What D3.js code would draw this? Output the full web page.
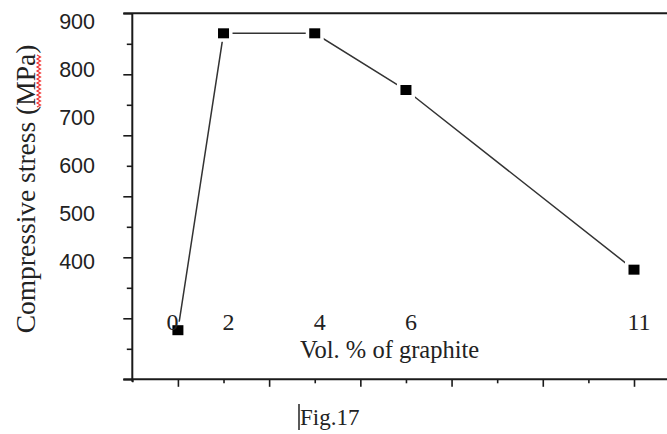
<!DOCTYPE html>
<html>
<head>
<meta charset="utf-8">
<script src="https://cdn.jsdelivr.net/npm/d3@7.9.0/dist/d3.min.js"></script>
<style>
  body { margin: 0; background: #fff; }
  svg { display: block; }
</style>
</head>
<body>
<svg id="chart" width="667" height="434"></svg>
<script>
// plotted positions along the x axis and the typed labels under them
const xPlot   = [1, 2, 4, 6, 11];
const xLabels = ["0", "2", "4", "6", "11"];
// compressive stress, MPa
const stress  = [257, 875, 875, 757, 383];
const yTicks  = [900, 800, 700, 600, 500, 400];

const svg = d3.select("#chart");
const W = 667;

// value scales
const x = d3.scaleLinear().domain([0, 11]).range([132.3, 634]);
const y = d3.scaleLinear().domain([400, 900]).range([261.5, 21.3]);
// frame scale for the tick marks on the left axis (12 divisions)
const yFrame = d3.scaleLinear().domain([0, 12]).range([379.3, 13.3]);

const axisColor = "#1a1a1a";

// left axis ticks
const gy = svg.append("g")
  .attr("transform", `translate(${x(0)},0)`)
  .call(d3.axisLeft(yFrame).tickValues(d3.range(0, 13)).tickFormat("").tickSizeOuter(0));
gy.select(".domain").remove();
gy.selectAll(".tick line")
  .attr("x2", d => d % 2 === 0 ? -9 : -5.5)
  .attr("stroke", axisColor)
  .attr("stroke-width", 1.6);

// bottom axis ticks
const gx = svg.append("g")
  .attr("transform", `translate(0,${yFrame(0)})`)
  .call(d3.axisBottom(x).tickValues(d3.range(0, 12)).tickFormat("").tickSizeOuter(0));
gx.select(".domain").remove();
gx.selectAll(".tick line")
  .attr("y2", d => d === 0 ? 3 : (d % 2 === 1 ? 7.5 : 4))
  .attr("stroke", axisColor)
  .attr("stroke-width", 1.6);

// frame lines
svg.append("line")
  .attr("x1", x(0)).attr("x2", x(0))
  .attr("y1", yFrame(12)).attr("y2", yFrame(0) + 2.5)
  .attr("stroke", axisColor).attr("stroke-width", 2);
svg.append("line")
  .attr("x1", x(0) - 9).attr("x2", W)
  .attr("y1", yFrame(0)).attr("y2", yFrame(0))
  .attr("stroke", axisColor).attr("stroke-width", 2);
svg.append("line")
  .attr("x1", x(0) - 9).attr("x2", W)
  .attr("y1", yFrame(12)).attr("y2", yFrame(12))
  .attr("stroke", axisColor).attr("stroke-width", 2);

// y value labels
svg.append("g").selectAll("text")
  .data(yTicks)
  .join("text")
  .attr("x", 95)
  .attr("y", d => y(d))
  .attr("dy", "0.35em")
  .attr("text-anchor", "end")
  .attr("font-family", "Liberation Sans, Arial, sans-serif")
  .attr("font-size", 21.5)
  .attr("fill", "#222")
  .text(d => d);

// series line
const pts = xPlot.map((v, i) => [x(v), y(stress[i])]);
svg.append("path")
  .datum(pts)
  .attr("d", d3.line())
  .attr("fill", "none")
  .attr("stroke", "#333")
  .attr("stroke-width", 1.5);

// markers with a white halo, so the line stops short of them
const mk = svg.append("g").selectAll("g")
  .data(pts)
  .join("g")
  .attr("transform", d => `translate(${d[0]},${d[1]})`);
mk.append("rect")
  .attr("x", -9).attr("y", -8.5).attr("width", 18).attr("height", 17)
  .attr("fill", "#fff");
mk.append("rect")
  .attr("x", -5.5).attr("y", -5).attr("width", 11).attr("height", 10)
  .attr("fill", "#000");

// x value labels (typed text inside the plot)
svg.append("g").selectAll("text")
  .data(xLabels)
  .join("text")
  .attr("x", (d, i) => x(xPlot[i]) + (i === 0 ? -5.5 : 5))
  .attr("y", 330)
  .attr("text-anchor", "middle")
  .attr("font-family", "Liberation Serif, Times New Roman, serif")
  .attr("font-size", 24)
  .attr("fill", "#222")
  .text(d => d);

// axis titles
svg.append("text")
  .attr("x", 300).attr("y", 358)
  .attr("font-family", "Liberation Serif, Times New Roman, serif")
  .attr("font-size", 24.5)
  .attr("fill", "#222")
  .text("Vol. % of graphite");

const yTitle = svg.append("text")
  .attr("transform", "translate(35,189) rotate(-90)")
  .attr("text-anchor", "middle")
  .attr("font-family", "Liberation Serif, Times New Roman, serif")
  .attr("font-size", 27.5)
  .attr("fill", "#222")
  .text("Compressive stress (MPa)");

// red spell-check squiggle under "MPa"
const sq = d3.range(0, 27).map(i => [i % 2 === 0 ? 37 : 40.5, 55 + i * 2]);
svg.append("path")
  .attr("d", d3.line()(sq))
  .attr("fill", "none")
  .attr("stroke", "#f03030")
  .attr("stroke-width", 1.2);

// caption with text cursor
svg.append("text")
  .attr("x", 300).attr("y", 425)
  .attr("font-family", "Liberation Serif, Times New Roman, serif")
  .attr("font-size", 23)
  .attr("fill", "#222")
  .text("Fig.17");
svg.append("line")
  .attr("x1", 299).attr("x2", 299)
  .attr("y1", 404).attr("y2", 430)
  .attr("stroke", "#000").attr("stroke-width", 1.3);
</script>
</body>
</html>
